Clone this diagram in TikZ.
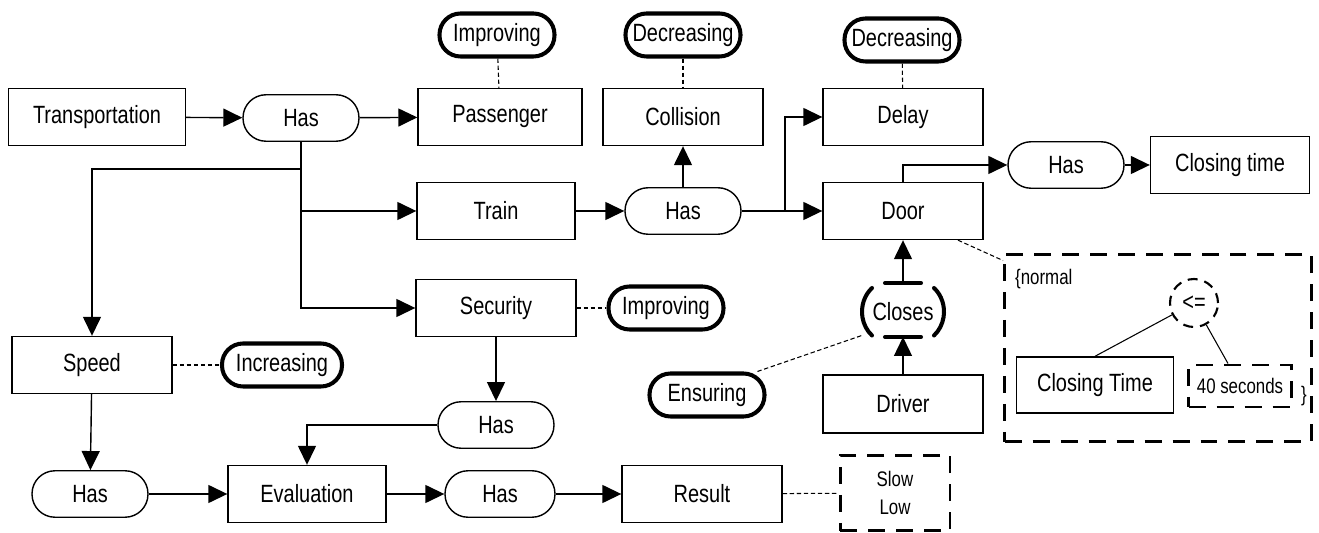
\documentclass[tikz,border=0pt]{standalone}
\usepackage{fontspec}
\setmainfont{Liberation Sans}[FakeStretch=0.8]
\usetikzlibrary{arrows.meta}

\begin{document}
\begin{tikzpicture}[x=0.02cm, y=-0.02cm, font=\fontsize{14.2}{17}\selectfont,
    box/.style={draw, line width=0.8pt, minimum width=3.2cm, minimum height=1.14cm},
    has/.style={draw, line width=0.8pt, rounded corners=0.46cm, minimum width=2.32cm, minimum height=0.93cm},
    state/.style={draw, line width=2.3pt, rounded corners=0.42cm, minimum width=2.3cm, minimum height=0.86cm, inner xsep=0.08cm},
    link/.style={line width=0.8pt, -{Triangle[length=0.38cm, width=0.36cm]}},
    note/.style={line width=0.6pt, dash pattern=on 2.5pt off 1.5pt},
    dashbox/.style={draw, line width=1.7pt, dash pattern=on 0.34cm off 0.22cm},
    small/.style={font=\fontsize{12}{16}\selectfont},
    paren/.style={line width=2.3pt, line cap=round}]
    \useasboundingbox (0,0) rectangle (1319,533);

    % top rows
    \node[box, minimum width=3.54cm] (transp) at (97,117) {Transportation};
    \node[has] (has1) at (301,118) {Has};
    \node[box, minimum width=3.28cm] (passenger) at (500,117) {Passenger};
    \node[state] (improving) at (497,35) {Improving};
    \node[box] (collision) at (683,117) {Collision};
    \node[state] (decr) at (683,35) {Decreasing};
    \node[box] (delay) at (903,117) {Delay};
    \node[state] (decrdelay) at (902,40) {Decreasing};
    \node[box, minimum width=3.16cm] (train) at (496,211) {Train};
    \node[has] (has2) at (683,211) {Has};
    \node[box] (door) at (903,211) {Door};
    \node[has] (has3) at (1066,165) {Has};
    \node[box, minimum width=3.18cm] (ctime) at (1230,165) {Closing time};

    % middle
    \node[box] (security) at (496,308) {Security};
    \node[state] (improvsec) at (666,308) {Improving};
    \node[box] (speed) at (92,365) {Speed};
    \node[state, minimum width=2.4cm] (incr) at (282,365) {Increasing};
    \node[has] (has4) at (496,425) {Has};
    \node[state] (ensuring) at (707,395) {Ensuring};
    \node[minimum width=1.56cm, minimum height=0.9cm] (closes) at (903,312) {Closes};
    \node[box, minimum height=1.16cm] (driver) at (903,404) {Driver};

    % bottom row
    \node[has] (has5) at (90,494) {Has};
    \node[box, minimum width=3.16cm] (evaluation) at (307,494) {Evaluation};
    \node[has, minimum width=2.2cm] (has6) at (500,494) {Has};
    \node[box] (result) at (702,494) {Result};
    \node[dashbox, small, align=center, minimum width=2.2cm, minimum height=1.52cm] (slow) at (895,493) {Slow\\Low};

    % condition box
    \node[dashbox, minimum width=6.14cm, minimum height=3.76cm] (cond) at (1158,348) {};
    \node[small, anchor=west] (normal) at (1009,279) {\{normal};
    \node[draw, circle, line width=1.2pt, dash pattern=on 0.2cm off 0.14cm, minimum size=0.96cm, inner sep=0pt] (le) at (1194,303) {<=};
    \node[box, minimum width=3.14cm, minimum height=1.12cm] (ctime2) at (1095,385) {Closing Time};
    \node[dashbox, small, minimum width=2.06cm, minimum height=0.84cm, inner sep=2pt] (sec) at (1240,386) {40 seconds};
    \node[small] (brace) at (1304,396) {\}};

    \coordinate (fork) at (301,169);
    \coordinate (split) at (785,211);
    \coordinate (ctop) at (903,283);
    \coordinate (cbot) at (903,337);

    \draw[link] (transp) -- (has1);
    \draw[link] (has1) -- (passenger);
    \draw[link] (has1.south) -- (fork) -| (speed.north);
    \draw[link] (fork) |- (train.west);
    \draw[link] (fork) |- (security.west);
    \draw[link] (train) -- (has2);
    \draw[link] (has2) -- (collision);
    \draw[link] (has2) -- (door);
    \draw[link] (split) |- (delay.west);
    \draw[link] (door.north) |- (has3.west);
    \draw[link] (has3) -- (ctime);
    \draw[link] (security) -- (has4);
    \draw[link] (has4.west) -| (evaluation.north);
    \draw[link] (speed) -- (has5);
    \draw[link] (has5) -- (evaluation);
    \draw[link] (evaluation) -- (has6);
    \draw[link] (has6) -- (result);
    \draw[link] (ctop) -- (door.south);
    \draw[link] (driver.north) -- (cbot);

    % closes brackets and bars
    \draw[paren] ([shift={(-31,-24)}]closes.center) arc[start angle=130, end angle=230, x radius=0.56cm, y radius=0.62cm];
    \draw[paren] ([shift={(31,-24)}]closes.center) arc[start angle=50, end angle=-50, x radius=0.56cm, y radius=0.62cm];
    \draw[paren] ([xshift=-0.36cm]ctop) -- ([xshift=0.36cm]ctop);
    \draw[paren] ([xshift=-0.36cm]cbot) -- ([xshift=0.36cm]cbot);

    % dashed notes
    \draw[note] (improving) -- (passenger);
    \draw[note] (decr) -- (collision);
    \draw[note] (decrdelay) -- (delay);
    \draw[note] (security) -- (improvsec);
    \draw[note] (speed) -- (incr);
    \draw[note] (result) -- (slow);
    \draw[note] (ensuring.25) -- (closes.south west);
    \draw[note] ([xshift=1.1cm]door.south) -- ([yshift=-0.16cm]cond.north west);

    \draw[line width=0.6pt] (le) -- (ctime2.north);
    \draw[line width=0.6pt] (le) -- ([xshift=-0.24cm]sec.north);
\end{tikzpicture}
\end{document}
